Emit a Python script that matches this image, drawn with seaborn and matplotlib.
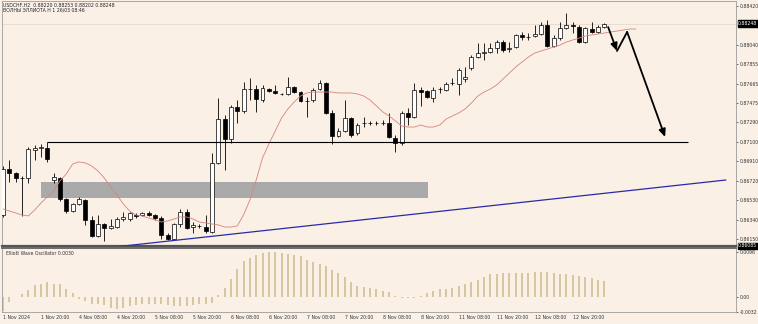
import numpy as np
import pandas as pd
import matplotlib
matplotlib.use("Agg")
import matplotlib.pyplot as plt
from matplotlib.patches import Rectangle
import seaborn as sns

# ---------------- data ----------------
opens = [
    0.86384, 0.86832, 0.86793, 0.86745, 0.86745, 0.87017, 0.87037, 0.87037, 0.86725, 0.86745,
    0.86540, 0.86423, 0.86492, 0.86530, 0.86336, 0.86180, 0.86297, 0.86258, 0.86267, 0.86345,
    0.86345, 0.86384, 0.86384, 0.86404, 0.86384, 0.86355, 0.86189, 0.86151, 0.86297, 0.86414,
    0.86267, 0.86277, 0.86267, 0.86219, 0.86891, 0.87319, 0.87125, 0.87436, 0.87397, 0.87612,
    0.87612, 0.87504, 0.87612, 0.87592, 0.87563, 0.87563, 0.87631, 0.87582, 0.87495, 0.87504,
    0.87612, 0.87670, 0.87378, 0.87154, 0.87202, 0.87329, 0.87183, 0.87280, 0.87280, 0.87280,
    0.87280, 0.87280, 0.87134, 0.87086, 0.87378, 0.87339, 0.87602, 0.87592, 0.87524, 0.87612,
    0.87602, 0.87670, 0.87660, 0.87709, 0.87816, 0.87923, 0.87962, 0.87972, 0.88011, 0.88069,
    0.88001, 0.88021, 0.88138, 0.88118, 0.88128, 0.88147, 0.88235, 0.88030, 0.88108, 0.88206,
    0.88235, 0.88215, 0.88069, 0.88196, 0.88167, 0.88220]
highs = [
    0.86862, 0.86920, 0.86803, 0.86764, 0.87047, 0.87066, 0.87076, 0.87095, 0.86793, 0.86754,
    0.86550, 0.86501, 0.86560, 0.86540, 0.86375, 0.86384, 0.86306, 0.86345, 0.86365, 0.86414,
    0.86414, 0.86404, 0.86414, 0.86423, 0.86394, 0.86375, 0.86209, 0.86306, 0.86443, 0.86443,
    0.86316, 0.86297, 0.86384, 0.86988, 0.87524, 0.87358, 0.87456, 0.87504, 0.87680, 0.87719,
    0.87651, 0.87651, 0.87621, 0.87651, 0.87573, 0.87728, 0.87641, 0.87592, 0.87534, 0.87621,
    0.87699, 0.87680, 0.87407, 0.87232, 0.87504, 0.87339, 0.87280, 0.87339, 0.87300, 0.87300,
    0.87310, 0.87378, 0.87163, 0.87397, 0.87426, 0.87670, 0.87631, 0.87602, 0.87631, 0.87631,
    0.87680, 0.87719, 0.87816, 0.87826, 0.87943, 0.88060, 0.88060, 0.88060, 0.88089, 0.88089,
    0.88069, 0.88147, 0.88167, 0.88157, 0.88235, 0.88264, 0.88284, 0.88138, 0.88264, 0.88352,
    0.88264, 0.88235, 0.88215, 0.88264, 0.88235, 0.88253]
lows = [
    0.86365, 0.86706, 0.86706, 0.86375, 0.86696, 0.86920, 0.86949, 0.86901, 0.86696, 0.86521,
    0.86404, 0.86414, 0.86482, 0.86287, 0.86170, 0.86170, 0.86131, 0.86248, 0.86258, 0.86326,
    0.86326, 0.86355, 0.86375, 0.86375, 0.86336, 0.86151, 0.86141, 0.86141, 0.86267, 0.86248,
    0.86209, 0.86258, 0.86209, 0.86209, 0.86880, 0.86823, 0.87086, 0.87280, 0.87378, 0.87504,
    0.87388, 0.87485, 0.87582, 0.87563, 0.87553, 0.87553, 0.87573, 0.87485, 0.87339, 0.87485,
    0.87602, 0.87368, 0.87076, 0.87144, 0.87193, 0.87144, 0.87163, 0.87241, 0.87261, 0.87261,
    0.87261, 0.87134, 0.86998, 0.87066, 0.87261, 0.87329, 0.87446, 0.87524, 0.87485, 0.87573,
    0.87592, 0.87651, 0.87553, 0.87680, 0.87797, 0.87914, 0.87894, 0.87962, 0.87962, 0.87972,
    0.87972, 0.88011, 0.88089, 0.88089, 0.88118, 0.88138, 0.88021, 0.88021, 0.88089, 0.88196,
    0.88157, 0.88060, 0.88060, 0.88157, 0.88157, 0.88202]
closes = [
    0.86832, 0.86793, 0.86745, 0.86748, 0.87027, 0.87037, 0.87047, 0.86930, 0.86754, 0.86540,
    0.86423, 0.86492, 0.86540, 0.86336, 0.86180, 0.86297, 0.86258, 0.86277, 0.86345, 0.86365,
    0.86404, 0.86375, 0.86404, 0.86384, 0.86355, 0.86189, 0.86151, 0.86297, 0.86414, 0.86258,
    0.86287, 0.86275, 0.86228, 0.86891, 0.87319, 0.87125, 0.87436, 0.87397, 0.87612, 0.87615,
    0.87514, 0.87621, 0.87592, 0.87573, 0.87565, 0.87631, 0.87582, 0.87495, 0.87497, 0.87602,
    0.87670, 0.87378, 0.87154, 0.87202, 0.87329, 0.87163, 0.87261, 0.87282, 0.87278, 0.87282,
    0.87278, 0.87144, 0.87086, 0.87378, 0.87339, 0.87602, 0.87582, 0.87534, 0.87602, 0.87614,
    0.87660, 0.87672, 0.87797, 0.87728, 0.87923, 0.87962, 0.87972, 0.88011, 0.88069, 0.87991,
    0.88011, 0.88138, 0.88118, 0.88120, 0.88147, 0.88235, 0.88030, 0.88108, 0.88206, 0.88235,
    0.88225, 0.88069, 0.88206, 0.88167, 0.88215, 0.88248]

# shifted moving average (extends 5 bars beyond last candle)
ma_values = [
    0.86443, 0.86423, 0.86404, 0.86384, 0.86375, 0.86433, 0.86501, 0.86560, 0.86618, 0.86716,
    0.86784, 0.86881, 0.86901, 0.86891, 0.86862, 0.86813, 0.86745, 0.86657, 0.86579, 0.86492,
    0.86423, 0.86384, 0.86375, 0.86355, 0.86336, 0.86316, 0.86326, 0.86345, 0.86365, 0.86365,
    0.86345, 0.86316, 0.86306, 0.86297, 0.86287, 0.86267, 0.86267, 0.86277, 0.86384, 0.86530,
    0.86725, 0.86940, 0.87076, 0.87202, 0.87329, 0.87417, 0.87485, 0.87543, 0.87573, 0.87582,
    0.87582, 0.87582, 0.87582, 0.87573, 0.87573, 0.87573, 0.87563, 0.87543, 0.87504, 0.87446,
    0.87388, 0.87349, 0.87300, 0.87251, 0.87241, 0.87241, 0.87261, 0.87241, 0.87241, 0.87261,
    0.87319, 0.87349, 0.87378, 0.87417, 0.87475, 0.87543, 0.87582, 0.87612, 0.87651, 0.87709,
    0.87767, 0.87826, 0.87875, 0.87923, 0.87962, 0.87982, 0.88001, 0.88021, 0.88040, 0.88069,
    0.88089, 0.88108, 0.88128, 0.88138, 0.88147, 0.88157, 0.88167, 0.88176, 0.88186, 0.88196,
    0.88196]

ewo_values = [
    -0.0030, -0.0010, 0.0001, 0.0007, 0.0014, 0.0025, 0.0028, 0.0032, 0.0028, 0.0028,
    0.0018, 0.0009, -0.0004, -0.0009, -0.0014, -0.0016, -0.0018, -0.0023, -0.0026, -0.0023,
    -0.0020, -0.0018, -0.0016, -0.0014, -0.0014, -0.0016, -0.0018, -0.0020, -0.0020, -0.0020,
    -0.0018, -0.0016, -0.0016, -0.0013, 0.0005, 0.0019, 0.0038, 0.0060, 0.0076, 0.0083,
    0.0090, 0.0094, 0.0095, 0.0096, 0.0094, 0.0092, 0.0090, 0.0087, 0.0078, 0.0074,
    0.0071, 0.0067, 0.0057, 0.0051, 0.0043, 0.0033, 0.0023, 0.0021, 0.0019, 0.0016,
    0.0012, 0.0010, 0.0003, -0.0002, -0.0003, -0.0003, 0.0003, 0.0009, 0.0012, 0.0017,
    0.0018, 0.0019, 0.0023, 0.0028, 0.0031, 0.0037, 0.0043, 0.0048, 0.0050, 0.0051,
    0.0051, 0.0051, 0.0051, 0.0051, 0.0053, 0.0054, 0.0054, 0.0051, 0.0050, 0.0048,
    0.0046, 0.0044, 0.0043, 0.0041, 0.0037, 0.0034]

time_labels = ["1 Nov 2024", "1 Nov 20:00", "4 Nov 08:00", "4 Nov 20:00", "5 Nov 08:00",
               "5 Nov 20:00", "6 Nov 08:00", "6 Nov 20:00", "7 Nov 08:00", "7 Nov 20:00",
               "8 Nov 08:00", "8 Nov 20:00", "11 Nov 08:00", "11 Nov 20:00", "12 Nov 08:00",
               "12 Nov 20:00"]
time_label_bars = [0, 6, 12, 18, 24, 30, 36, 42, 48, 54, 60, 66, 72, 78, 84, 90]
price_ticks = [0.88420, 0.88040, 0.87855, 0.87665, 0.87475, 0.87290, 0.87100,
               0.86910, 0.86720, 0.86530, 0.86340, 0.86150]
bid_price = 0.88248
bottom_price = 0.86085
osc_ticks = [0.0096, 0.0, -0.0032]
osc_tick_labels = ["0.0096", "0.00", "-0.0032"]

# drawn objects (analysis)
support_level = 0.87100
support_bars = (7, 108.2)
zone_bars = (6.0, 67.1)
zone_prices = (0.86550, 0.86706)
trend_bars = [17.7, 114.2]
trend_prices = [0.86073, 0.86725]
arrow_bars = [95.6, 97.0, 98.6, 104.6]
arrow_prices = [0.88215, 0.87982, 0.88167, 0.87144]

# ---------------- style ----------------
sns.set_theme(style="white")
BG = "#faf0e6"
plt.rcParams["font.family"] = ["DejaVu Sans"]
FS = 3.3

fig = plt.figure(figsize=(7.58, 3.24), dpi=100, facecolor=BG)
W, H = 758.0, 324.0
ax = fig.add_axes([2 / W, 1 - 246 / H, 734 / W, 245 / H], facecolor=BG)
ax2 = fig.add_axes([2 / W, 1 - 312 / H, 734 / W, 64 / H], facecolor=BG, sharex=ax)

df = pd.DataFrame({"bar": np.arange(len(opens)), "open": opens, "high": highs,
                   "low": lows, "close": closes, "ewo": ewo_values})

# zone rectangle
ax.add_patch(Rectangle((zone_bars[0], zone_prices[0]), zone_bars[1] - zone_bars[0],
                       zone_prices[1] - zone_prices[0], facecolor="#aaaaaa",
                       edgecolor="none", zorder=1))
# bid line
ax.axhline(bid_price, color="#e9dcd0", lw=0.7, zorder=0.5)

# candles
ax.vlines(df["bar"], df["low"], df["high"], color="black", lw=0.6, zorder=3)
bull = df["close"] >= df["open"]
body_bottom = np.minimum(df["open"], df["close"])
body_h = np.maximum(np.abs(df["close"] - df["open"]), 0.000012)
ax.bar(df["bar"][bull], body_h[bull], bottom=body_bottom[bull], width=0.62,
       color="white", edgecolor="black", linewidth=0.5, zorder=4)
ax.bar(df["bar"][~bull], body_h[~bull], bottom=body_bottom[~bull], width=0.62,
       color="black", edgecolor="black", linewidth=0.5, zorder=4)

# moving average
sns.lineplot(x=np.arange(len(ma_values)), y=ma_values, ax=ax, color="#d9827a",
             lw=0.6, zorder=5)

# support line, trend line
ax.hlines(support_level, support_bars[0], support_bars[1], color="black", lw=0.8, zorder=5)
sns.lineplot(x=trend_bars, y=trend_prices, ax=ax, color="#2a2aa8", lw=0.9, zorder=5)

# zig-zag arrow
arrow_kw = dict(arrowstyle="-|>,head_length=0.5,head_width=0.22", color="black", lw=1.3,
                mutation_scale=9, shrinkA=0, shrinkB=0)
ax.annotate("", xy=(arrow_bars[1], arrow_prices[1]), xytext=(arrow_bars[0], arrow_prices[0]),
            arrowprops=arrow_kw, zorder=6)
ax.plot(arrow_bars[1:3], arrow_prices[1:3], color="black", lw=1.3, zorder=6,
        solid_capstyle="round")
ax.annotate("", xy=(arrow_bars[3], arrow_prices[3]), xytext=(arrow_bars[2], arrow_prices[2]),
            arrowprops=arrow_kw, zorder=6)

ax.set_xlim(-0.16, 115.8)
ax.set_ylim(0.86082, 0.88469)
ax.yaxis.tick_right()
ax.set_yticks(price_ticks)
ax.set_yticklabels([f"{p:.5f}" for p in price_ticks])
ax.tick_params(axis="y", labelsize=FS, length=1.5, width=0.5, pad=1, colors="#333333")
ax.tick_params(axis="x", bottom=False, labelbottom=False)
ax.set_xlabel("")
ax.set_ylabel("")
for s in ax.spines.values():
    s.set_color("#9c9c9c")
    s.set_linewidth(0.6)
ax.spines["bottom"].set_color("#555555")
ax.spines["bottom"].set_linewidth(1.6)

# price boxes
for val, txt in [(bid_price, "0.88248"), (bottom_price, "0.86085")]:
    ax.text(1.003, (val - 0.86082) / (0.88469 - 0.86082), txt, transform=ax.transAxes,
            fontsize=FS, color="white", va="center", ha="left", zorder=10,
            bbox=dict(boxstyle="square,pad=0.15", fc="black", ec="black"), clip_on=False)

# header text
ax.text(0.002, 0.993, "USDCHF,H2  0.88220 0.88253 0.88202 0.88248", transform=ax.transAxes,
        fontsize=FS, va="top", ha="left", color="#222222")
ax.text(0.002, 0.972, "ВОЛНЫ ЭЛЛИОТА H 1 26/03 08:46", transform=ax.transAxes,
        fontsize=FS, va="top", ha="left", color="#222222")

# oscillator
ax2.vlines(df["bar"], 0, df["ewo"], color="#cbbb8c", lw=1.1)
ax2.set_ylim(-0.0032, 0.01045)
ax2.yaxis.tick_right()
ax2.set_yticks(osc_ticks)
ax2.set_yticklabels(osc_tick_labels)
ax2.tick_params(axis="y", labelsize=FS, length=1.5, width=0.5, pad=1, colors="#333333")
ax2.set_xticks(time_label_bars)
ax2.set_xticklabels(time_labels, ha="left")
ax2.tick_params(axis="x", labelsize=FS, length=1.5, width=0.5, pad=1, colors="#333333")
ax2.text(0.005, 0.96, "Elliott Wave Oscillator 0.0030", transform=ax2.transAxes,
         fontsize=FS, va="top", ha="left", color="#333333")
for s in ax2.spines.values():
    s.set_color("#9c9c9c")
    s.set_linewidth(0.6)
ax2.spines["top"].set_color("#555555")
ax2.spines["top"].set_linewidth(1.2)

fig.savefig("out.png", dpi=100, facecolor=BG)
